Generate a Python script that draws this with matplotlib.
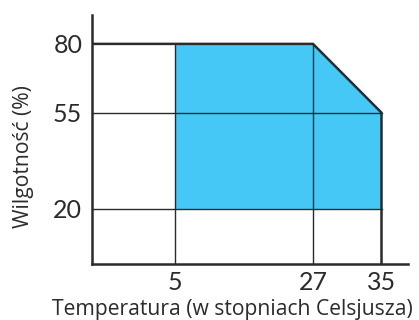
import numpy as np
import matplotlib.pyplot as plt

# temperature / humidity envelope
temp_ticks = [5, 27, 35]
hum_ticks = [20, 55, 80]
zone_temp = [5, 5, 27, 35, 35]
zone_hum = [20, 80, 80, 55, 20]

# piecewise temperature axis (segments are not drawn to the same scale)
knots_t = np.array([0.0, 5.0, 27.0, 35.0, 60.0])
knots_p = np.array([0.0, 83.0, 221.0, 289.5, 502.0])


def fwd(t):
    return np.interp(t, knots_t, knots_p)


def inv(p):
    return np.interp(p, knots_p, knots_t)


ink = '#2b2b2b'
fill = '#45c8f5'

fig = plt.figure(figsize=(4.19, 3.2), dpi=100)
ax = fig.add_axes([92 / 419, 1 - 264 / 320, 316 / 419, 249 / 320])
ax.set_xscale('function', functions=(fwd, inv))
ax.set_xlim(0, inv(316.0))
ax.set_ylim(0, 90.5)

ax.fill(zone_temp, zone_hum, color=fill, lw=0, zorder=1)

# thin guide lines at the tick values
for h in hum_ticks[:2]:
    ax.plot([0, temp_ticks[2]], [h, h], color=ink, lw=1.0, zorder=2)
for t in temp_ticks[:2]:
    ax.plot([t, t], [0, hum_ticks[2]], color=ink, lw=1.0, zorder=2)

# upper boundary of the zone
ax.plot([0, 27, 35, 35], [80, 80, 55, 0], color=ink, lw=1.8,
        solid_joinstyle='miter', zorder=3)

ax.set_xticks(temp_ticks)
ax.set_yticks(hum_ticks)
ax.tick_params(length=0, labelsize=18, labelcolor=ink)
ax.tick_params(axis='x', pad=5)
ax.tick_params(axis='y', pad=7)
for lbl in ax.get_xticklabels() + ax.get_yticklabels():
    lbl.set_family('Lato')

for s in ['top', 'right']:
    ax.spines[s].set_visible(False)
for s in ['left', 'bottom']:
    ax.spines[s].set_linewidth(1.8)
    ax.spines[s].set_color(ink)

# axis titles
fig.text(413 / 419, 1 - 315 / 320, 'Temperatura (w stopniach Celsjusza)',
         family='Open Sans', fontsize=15.2, color=ink,
         ha='right', va='baseline')
fig.text(24 / 419, 1 - 157 / 320, 'Wilgotność (%)', family='Open Sans',
         fontsize=15.2, color=ink, rotation=90, ha='center', va='center')

fig.savefig('out.png', dpi=100)
